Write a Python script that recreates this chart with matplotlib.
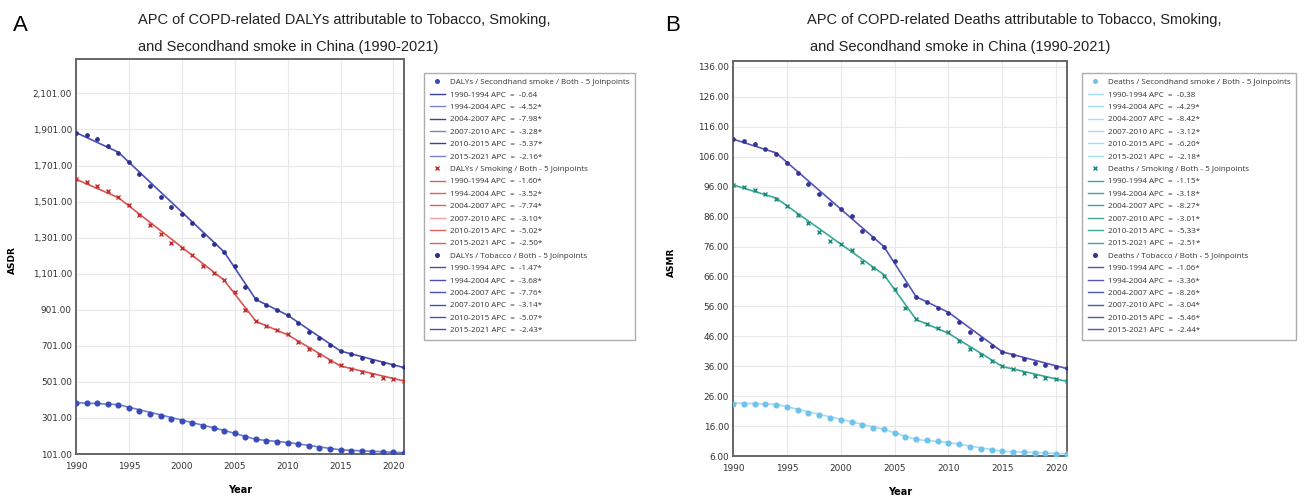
import matplotlib
matplotlib.use("Agg")
import matplotlib.pyplot as plt
from matplotlib.lines import Line2D

years = list(range(1990, 2022))
joinpoints = [1990, 1994, 2004, 2007, 2010, 2015, 2021]
segments = ["1990-1994", "1994-2004", "2004-2007", "2007-2010", "2010-2015", "2015-2021"]

# Panel A: DALYs (ASDR)
dalys_tobacco = [1884, 1868, 1846, 1811, 1773, 1722, 1655, 1590, 1529, 1469, 1433, 1384, 1314, 1268,
                 1219, 1142, 1025, 960, 929, 901, 872, 827, 780, 742, 705, 673, 655, 633, 618, 603,
                 592, 581]
dalys_smoking = [1625, 1610, 1590, 1558, 1525, 1482, 1427, 1371, 1321, 1271, 1244, 1204, 1145, 1103,
                 1064, 997, 897, 840, 812, 788, 764, 723, 683, 649, 619, 592, 575, 555, 538, 525,
                 518, 508]
dalys_second = [384, 384, 383, 377, 372, 358, 342, 325, 312, 297, 284, 271, 257, 244, 230, 216, 195,
                182, 175, 169, 164, 155, 144, 136, 129, 123, 119, 116, 114, 112, 110, 108]
dalys_tobacco_fit = [1884, 1775, 1222, 958, 871, 672, 580]
dalys_smoking_fit = [1625, 1523, 1065, 837, 762, 589, 506]
dalys_second_fit = [386, 375, 232, 182, 165, 124, 108]
apc_dalys_second = ["-0.64", "-4.52*", "-7.98*", "-3.28*", "-5.37*", "-2.16*"]
apc_dalys_smoking = ["-1.60*", "-3.52*", "-7.74*", "-3.10*", "-5.02*", "-2.50*"]
apc_dalys_tobacco = ["-1.47*", "-3.68*", "-7.76*", "-3.14*", "-5.07*", "-2.43*"]

# Panel B: Deaths (ASMR)
deaths_tobacco = [111.9, 111.2, 110.1, 108.7, 106.8, 104.0, 100.5, 97.0, 93.5, 90.2, 88.6, 86.1,
                  81.3, 78.7, 75.8, 71.0, 63.2, 59.2, 57.3, 55.6, 53.8, 50.7, 47.6, 45.1, 42.9,
                  40.9, 39.7, 38.3, 37.2, 36.4, 35.8, 35.3]
deaths_smoking = [96.5, 95.9, 94.9, 93.5, 91.8, 89.6, 86.7, 83.7, 80.8, 78.0, 77.0, 74.7, 70.9,
                  68.9, 66.2, 61.9, 55.3, 51.8, 50.1, 48.8, 47.3, 44.5, 41.8, 39.7, 37.8, 36.0,
                  35.1, 33.8, 32.8, 32.1, 31.6, 31.0]
deaths_second = [23.5, 23.5, 23.5, 23.3, 23.0, 22.4, 21.4, 20.4, 19.6, 18.7, 17.9, 17.3, 16.3,
                 15.5, 14.9, 13.8, 12.4, 11.6, 11.3, 10.9, 10.5, 9.9, 9.0, 8.5, 8.0, 7.6, 7.4, 7.2,
                 7.1, 7.0, 6.8, 6.7]
deaths_tobacco_fit = [111.9, 107.3, 76.0, 59.2, 54.0, 40.8, 35.2]
deaths_smoking_fit = [96.6, 92.2, 66.6, 51.6, 47.0, 35.9, 30.9]
deaths_second_fit = [23.7, 23.3, 14.9, 11.5, 10.5, 7.6, 6.7]
apc_deaths_second = ["-0.38", "-4.29*", "-8.42*", "-3.12*", "-6.20*", "-2.18*"]
apc_deaths_smoking = ["-1.15*", "-3.18*", "-8.27*", "-3.01*", "-5.33*", "-2.51*"]
apc_deaths_tobacco = ["-1.06*", "-3.36*", "-8.26*", "-3.04*", "-5.46*", "-2.44*"]

fig = plt.figure(figsize=(13.07, 4.97), dpi=100)
W, H = 1307, 497


def box(l, t, r, b):
    return [l / W, 1 - b / H, (r - l) / W, (b - t) / H]


def style_axes(ax, yticks, ylim, ylabel, ylab_x):
    ax.set_xlim(1990, 2021)
    ax.set_ylim(*ylim)
    ax.set_xticks([1990, 1995, 2000, 2005, 2010, 2015, 2020])
    ax.set_yticks(yticks)
    ax.set_yticklabels([f"{v:,.2f}" for v in yticks])
    ax.tick_params(labelsize=6.4, length=0, colors="#333333")
    ax.tick_params(axis="y", pad=3)
    ax.tick_params(axis="x", pad=6)
    ax.grid(True, color="#e8e8e8", linewidth=0.8)
    ax.set_axisbelow(True)
    for s in ax.spines.values():
        s.set_color("#666666")
        s.set_linewidth(1.4)
    ax.set_xlabel("Year", fontsize=7, fontweight="bold")
    ax.xaxis.set_label_coords(0.5, -0.078)
    ax.set_ylabel(ylabel, fontsize=6.5, fontweight="bold")
    ax.yaxis.set_label_coords(ylab_x, 0.49)


def draw_series(ax, obs, fit, mk, mcol, lcol, ms, mew=1.0):
    ax.plot(joinpoints, fit, color=lcol, linewidth=1.2, zorder=2)
    ax.plot(years, obs, linestyle="none", marker=mk, color=mcol, markersize=ms,
            markeredgewidth=mew, zorder=3)


def draw_legend(ax, groups):
    handles = []
    for title, mk, mcol, lcols, apcs in groups:
        handles.append(Line2D([], [], linestyle="none", marker=mk, color=mcol, markersize=2.6,
                              label=title))
        for seg, c, a in zip(segments, lcols, apcs):
            handles.append(Line2D([], [], color=c, linewidth=1.0, label=f"{seg} APC  =  {a}"))
    leg = ax.legend(handles=handles, loc="upper left", bbox_to_anchor=(0, 1), frameon=True,
                    fancybox=False, handlelength=1.9, handletextpad=0.6,
                    labelspacing=0.59, borderpad=0.7, borderaxespad=0,
                    prop={"family": "Open Sans", "size": 5.8})
    leg.get_frame().set_edgecolor("#999999")
    leg.get_frame().set_linewidth(1.0)
    for t in leg.get_texts():
        t.set_color("#333333")


title_font = {"family": "Liberation Sans", "fontsize": 10.5, "color": "#222222"}

# ---- Panel A ----
axA = fig.add_axes(box(76, 59, 404, 454))
draw_series(axA, dalys_tobacco, dalys_tobacco_fit, "o", "#2b2f8f", "#4a4fb5", 2.4)
draw_series(axA, dalys_smoking, dalys_smoking_fit, "x", "#c03030", "#d95555", 2.8)
draw_series(axA, dalys_second, dalys_second_fit, "o", "#3a4bb8", "#7080d0", 3.4)
style_axes(axA, [101, 301, 501, 701, 901, 1101, 1301, 1501, 1701, 1901, 2101], (101, 2292), "ASDR",
           -0.18)
fig.text(13 / W, 1 - 31 / H, "A", fontsize=16, family="Liberation Sans")
fig.text(138 / W, 1 - 24 / H, "APC of COPD-related DALYs attributable to Tobacco, Smoking,", **title_font)
fig.text(138 / W, 1 - 51 / H, "and Secondhand smoke in China (1990-2021)", **title_font)

legA = fig.add_axes(box(424, 73, 647, 338))
legA.axis("off")
draw_legend(legA, [
    ("DALYs / Secondhand smoke / Both - 5 Joinpoints", "o", "#3a4bb8",
     ["#3a3fa5", "#7a80d5", "#3a3fa5", "#7a80d5", "#3a3fa5", "#7a80d5"], apc_dalys_second),
    ("DALYs / Smoking / Both - 5 Joinpoints", "x", "#c03030",
     ["#e06060", "#e06060", "#e06060", "#f0a0a0", "#e06060", "#e06060"], apc_dalys_smoking),
    ("DALYs / Tobacco / Both - 5 Joinpoints", "o", "#2b2f8f",
     ["#4a4fb5", "#4a4fb5", "#4a4fb5", "#4a4fb5", "#4a4fb5", "#4a4fb5"], apc_dalys_tobacco),
])

# ---- Panel B ----
axB = fig.add_axes(box(733, 61, 1067, 456))
draw_series(axB, deaths_tobacco, deaths_tobacco_fit, "o", "#33349a", "#5555b8", 2.4)
draw_series(axB, deaths_smoking, deaths_smoking_fit, "x", "#1f8a7a", "#3aa898", 2.8)
draw_series(axB, deaths_second, deaths_second_fit, "o", "#6ec3ea", "#a8dcf2", 3.4)
style_axes(axB, list(range(6, 137, 10)), (6, 138), "ASMR", -0.17)
fig.text(665 / W, 1 - 31 / H, "B", fontsize=16, family="Liberation Sans")
fig.text(807 / W, 1 - 24 / H, "APC of COPD-related Deaths attributable to Tobacco, Smoking,", **title_font)
fig.text(810 / W, 1 - 51 / H, "and Secondhand smoke in China (1990-2021)", **title_font)

legB = fig.add_axes(box(1082, 73, 1303, 335))
legB.axis("off")
draw_legend(legB, [
    ("Deaths / Secondhand smoke / Both - 5 Joinpoints", "o", "#6ec3ea",
     ["#a8dcf2"] * 6, apc_deaths_second),
    ("Deaths / Smoking / Both - 5 Joinpoints", "x", "#1f8a7a",
     ["#3aa898"] * 6, apc_deaths_smoking),
    ("Deaths / Tobacco / Both - 5 Joinpoints", "o", "#33349a",
     ["#5555b8"] * 6, apc_deaths_tobacco),
])

fig.savefig("out.png", dpi=100)
